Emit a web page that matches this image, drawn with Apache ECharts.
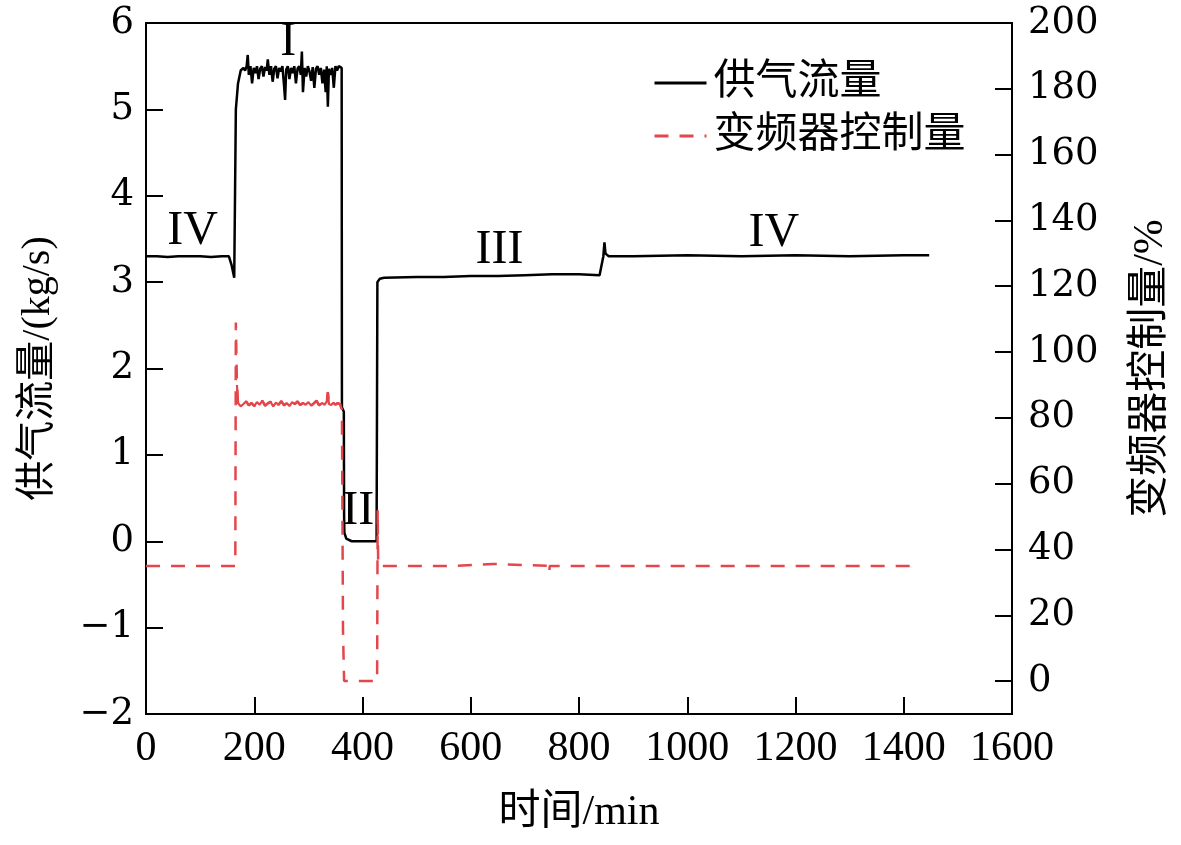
<!DOCTYPE html>
<html lang="zh">
<head>
	<meta charset="UTF-8">
	<title>供气流量与变频器控制量</title>
	<style type="text/css">
		html, body{ margin:0; padding:0; background:#fff; }
		#main{ width:1181px; height:845px; }
	</style>
</head>
<body>
	<div id="main"></div>
	<script type="text/javascript" src="https://cdn.jsdelivr.net/npm/echarts@6/dist/echarts.min.js"></script>
	<script type="text/javascript">
		// 供气流量 (kg/s)
		var flowTime = [0, 20, 40, 60, 80, 100, 120, 140, 153, 158, 163, 165, 166, 170, 175, 180,
			183, 186, 188, 190, 193, 196, 199, 202, 205, 208, 211, 214, 217, 220, 223, 225, 228, 231, 234, 237,
			240, 243, 246, 249, 252, 255, 257, 259, 262, 265, 268, 271, 274, 277, 280, 283, 286, 288, 290, 293,
			296, 299, 302, 305, 308, 311, 314, 317, 320, 323, 326, 329, 332, 334, 336, 338, 341, 344, 347, 350,
			353, 356, 359, 361.5, 362, 365.5, 366, 366.5, 370, 380, 400, 426, 427.5, 432, 440, 500, 550, 600,
			650, 700, 750, 800, 838, 841, 845, 847, 849, 855, 900, 1000, 1100, 1200, 1300, 1400, 1447];
		var flowValue = [3.30, 3.30, 3.29, 3.30, 3.30, 3.30, 3.29, 3.30, 3.30, 3.20, 3.05, 3.03, 5.00, 5.30, 5.45, 5.48,
			5.45, 5.50, 5.63, 5.40, 5.50, 5.30, 5.48, 5.42, 5.50, 5.35, 5.47, 5.50, 5.38, 5.49, 5.45, 5.58, 5.40, 5.50, 5.32, 5.47,
			5.50, 5.36, 5.48, 5.44, 5.50, 5.28, 5.11, 5.46, 5.50, 5.35, 5.48, 5.42, 5.50, 5.30, 5.47, 5.50, 5.40, 5.67, 5.20, 5.48,
			5.38, 5.50, 5.44, 5.33, 5.49, 5.25, 5.47, 5.50, 5.40, 5.48, 5.30, 5.46, 5.20, 5.50, 5.03, 5.47, 5.40, 5.48, 5.25, 5.50,
			5.45, 5.50, 5.48, 5.48, 1.55, 1.50, 0.30, 0.10, 0.03, 0.00, 0.00, 0.00, 3.00, 3.04, 3.05, 3.06, 3.06, 3.07,
			3.07, 3.08, 3.09, 3.09, 3.08, 3.08, 3.30, 3.46, 3.33, 3.30, 3.30, 3.31, 3.30, 3.31, 3.30, 3.31, 3.31];

		// 变频器控制量 (%)
		var ctrlTime = [0, 165, 166, 168, 170, 175, 180, 185, 190, 195, 200, 205, 210, 215, 220, 225, 230, 235,
			240, 245, 250, 255, 260, 265, 270, 275, 280, 285, 290, 295, 300, 305, 310, 315, 320, 325, 330, 334,
			336, 338, 342, 346, 350, 354, 358, 361, 362, 364, 366, 427, 428, 429, 574, 576, 640, 643, 744, 745,
			746, 1424];
		var ctrlValue = [35, 35, 109, 90, 84.5, 83.5, 84.2, 85.0, 83.8, 84.5, 83.6, 84.8, 84.0, 85.2, 83.7, 84.4, 84.9, 83.5,
			84.6, 84.0, 85.1, 83.8, 84.5, 83.6, 84.8, 84.2, 85.0, 83.9, 84.5, 84.0, 84.8, 83.7, 84.4, 85.2, 83.8, 84.5, 84.0, 85.0,
			87.8, 84.2, 83.9, 84.6, 84.0, 84.5, 84.2, 84.0, 82.5, 15, 0, 0, 52, 35, 35, 35.6, 35.6, 35, 35, 33,
			35, 35];

		// 阶段标注
		var stageNames = ['IV', 'I', 'II', 'III', 'IV'];
		var stageTime = [86, 263, 392, 653, 1160];
		var stageLevel = [3.59, 5.77, 0.34, 3.37, 3.57];

		var rightTicks = [0, 20, 40, 60, 80, 100, 120, 140, 160, 180, 200];

		var serif = '"Liberation Serif", "Noto Sans CJK SC", serif';
		var red = '#e4474b';

		function zip(xs, ys){
			return xs.map(function (x, i){ return [x, ys[i]]; });
		}
		var flowData = zip(flowTime, flowValue);
		var ctrlData = zip(ctrlTime, ctrlValue);
		// 噪声段在原图中呈实线
		var ctrlNoisy = ctrlData.filter(function (p){ return p[0] >= 168 && p[0] <= 361; });
		var stageData = stageNames.map(function (n, i){
			return { name: n, value: [stageTime[i], stageLevel[i]] };
		});

		var myChart = echarts.init(document.getElementById('main'));
		var option = {
			animation: false,
			grid: {
				left: 146, right: 169, top: 23, bottom: 131,
				show: true, borderColor: '#000', borderWidth: 2
			},
			legend: {
				orient: 'vertical',
				left: 648, top: 57,
				itemWidth: 52, itemHeight: 14, itemGap: 11,
				itemStyle: { opacity: 0 },
				lineStyle: { width: 3 },
				data: ['供气流量', '变频器控制量'],
				textStyle: { fontSize: 42, lineHeight: 42, color: '#000', fontFamily: serif, padding: [0, 0, 0, 2] }
			},
			xAxis: {
				type: 'value', min: 0, max: 1600, interval: 200,
				name: '时间/min', nameLocation: 'middle', nameGap: 78,
				nameTextStyle: { fontSize: 42, color: '#000', fontFamily: serif },
				axisLine: { onZero: false, lineStyle: { color: '#000', width: 2 } },
				axisTick: { inside: true, length: 17, lineStyle: { width: 2 } },
				axisLabel: {
					fontSize: 42, color: '#000', fontFamily: serif, margin: 14,
					formatter: function (v){ return String(v); }
				},
				splitLine: { show: false }
			},
			yAxis: [{
				type: 'value', min: -2, max: 6, interval: 1,
				name: '供气流量/(kg/s)', nameLocation: 'middle', nameRotate: 90, nameGap: 88,
				nameTextStyle: { fontSize: 40, color: '#000', fontFamily: serif },
				axisLine: { show: true, lineStyle: { color: '#000', width: 2 } },
				axisTick: { inside: true, length: 17, lineStyle: { width: 2 } },
				axisLabel: {
					fontSize: 37, color: '#000', fontFamily: '"DejaVu Serif", serif', margin: 12,
					formatter: function (v){ return v < 0 ? '\u2212' + (-v) : String(v); }
				},
				splitLine: { show: false }
			}, {
				type: 'value', min: -10, max: 200, position: 'right',
				name: '变频器控制量/%', nameLocation: 'middle', nameRotate: 90, nameGap: 118,
				nameTextStyle: { fontSize: 42, color: '#000', fontFamily: serif },
				axisLine: { show: true, lineStyle: { color: '#000', width: 2 } },
				axisTick: { inside: true, length: 17, lineStyle: { width: 2 }, customValues: rightTicks },
				axisLabel: { fontSize: 37, color: '#000', fontFamily: '"DejaVu Serif", serif', margin: 16, customValues: rightTicks },
				splitLine: { show: false }
			}],
			series: [{
				name: '供气流量', type: 'line', yAxisIndex: 0, symbol: 'none',
				lineStyle: { color: '#000', width: 2.5 }, itemStyle: { color: '#000' },
				data: flowData
			}, {
				name: '变频器控制量', type: 'line', yAxisIndex: 1, symbol: 'none',
				lineStyle: { color: red, width: 2.5, type: [14, 11] }, itemStyle: { color: red },
				data: ctrlData
			}, {
				name: 'ctrlNoisy', type: 'line', yAxisIndex: 1, symbol: 'none',
				lineStyle: { color: red, width: 2.2 }, itemStyle: { color: red },
				data: ctrlNoisy
			}, {
				name: 'stages', type: 'scatter', yAxisIndex: 0, symbolSize: 0,
				itemStyle: { opacity: 1 },
				label: {
					show: true, position: 'inside', formatter: '{b}', opacity: 1,
					fontSize: 48, color: '#000', fontFamily: '"Liberation Serif", serif'
				},
				data: stageData
			}]
		};
		myChart.setOption(option);
	</script>
</body>
</html>
